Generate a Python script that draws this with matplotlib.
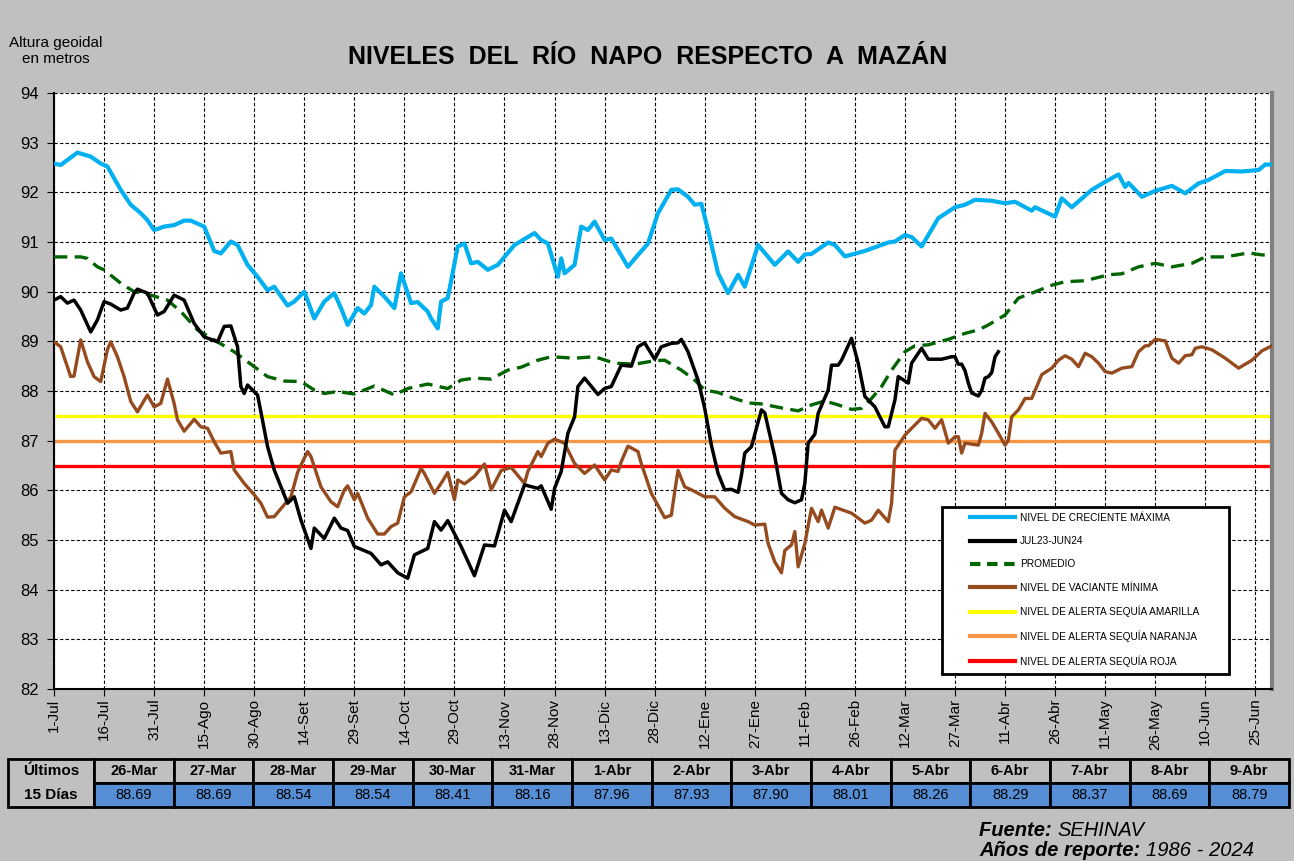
import matplotlib
matplotlib.use("Agg")
import matplotlib.pyplot as plt
from matplotlib.patches import Rectangle
from matplotlib.lines import Line2D

plt.rcParams['font.family'] = ['Liberation Sans', 'DejaVu Sans']

# eje x: dias desde el 1-Jul (anio hidrologico 2023-2024, bisiesto)
tick_days = list(range(0, 361, 15))
tick_labels = ['1-Jul', '16-Jul', '31-Jul', '15-Ago', '30-Ago', '14-Set', '29-Set', '14-Oct',
               '29-Oct', '13-Nov', '28-Nov', '13-Dic', '28-Dic', '12-Ene', '27-Ene', '11-Feb',
               '26-Feb', '12-Mar', '27-Mar', '11-Abr', '26-Abr', '11-May', '26-May', '10-Jun', '25-Jun']

# nivel de creciente maxima
max_days = [0, 2, 7, 11, 14, 16, 20, 23, 26, 28, 30, 33, 36, 39, 41, 45, 48, 50, 53, 55, 58, 61, 64,
            66, 70, 72, 75, 78, 81, 84, 86, 88, 91, 93, 95, 96, 99, 102, 104, 107, 109, 112, 113,
            115, 116, 118, 121, 123, 125, 127, 130, 133, 138, 144, 146, 148, 151, 152, 153, 156,
            158, 160, 162, 165, 167, 172, 175, 178, 181, 185, 187, 190, 192, 194, 196, 199, 202,
            205, 207, 211, 216, 220, 223, 225, 227, 232, 234, 237, 243, 250, 252, 255, 257, 260,
            265, 270, 273, 276, 281, 285, 288, 293, 294, 300, 302, 305, 311, 315, 319, 321, 322,
            326, 330, 335, 339, 343, 346, 351, 356, 361, 363, 365]
max_vals = [92.58, 92.55, 92.80, 92.72, 92.58, 92.52, 92.05, 91.75, 91.58, 91.44, 91.24, 91.31,
            91.34, 91.43, 91.43, 91.31, 90.82, 90.77, 91.01, 90.94, 90.54, 90.30, 90.03, 90.10,
            89.72, 89.80, 90.00, 89.46, 89.80, 89.97, 89.67, 89.33, 89.67, 89.56, 89.73, 90.10,
            89.90, 89.67, 90.37, 89.77, 89.79, 89.60, 89.46, 89.26, 89.80, 89.87, 90.91, 90.97,
            90.57, 90.60, 90.44, 90.54, 90.94, 91.18, 91.04, 90.97, 90.30, 90.67, 90.37, 90.54,
            91.31, 91.24, 91.41, 91.04, 91.07, 90.50, 90.74, 90.97, 91.58, 92.05, 92.06, 91.91,
            91.75, 91.77, 91.24, 90.37, 89.97, 90.34, 90.10, 90.94, 90.54, 90.81, 90.60, 90.75,
            90.76, 90.99, 90.94, 90.71, 90.82, 90.99, 91.01, 91.14, 91.10, 90.91, 91.48, 91.70,
            91.75, 91.85, 91.83, 91.78, 91.81, 91.63, 91.70, 91.51, 91.88, 91.70, 92.05, 92.21,
            92.36, 92.11, 92.19, 91.91, 92.03, 92.13, 91.98, 92.18, 92.25, 92.43, 92.42, 92.45,
            92.56, 92.56]

# promedio 1986-2024
avg_days = [0, 8, 10, 13, 15, 20, 24, 29, 34, 38, 43, 48, 54, 60, 64, 69, 74, 78, 81, 85, 90, 96,
            102, 106, 112, 118, 122, 126, 131, 136, 140, 145, 149, 156, 162, 168, 174, 180, 183,
            188, 192, 195, 199, 203, 208, 212, 218, 223, 227, 231, 235, 239, 242, 245, 248, 251,
            255, 258, 262, 268, 273, 277, 280, 285, 289, 293, 299, 303, 309, 316, 320, 325, 330,
            335, 341, 345, 351, 358, 362, 365]
avg_vals = [90.70, 90.70, 90.67, 90.50, 90.44, 90.17, 90.00, 89.93, 89.83, 89.60, 89.23, 89.03,
            88.79, 88.49, 88.29, 88.20, 88.19, 88.02, 87.95, 87.99, 87.94, 88.10, 87.92, 88.05,
            88.14, 88.05, 88.22, 88.26, 88.24, 88.42, 88.48, 88.62, 88.69, 88.66, 88.69, 88.56,
            88.54, 88.61, 88.62, 88.42, 88.22, 88.02, 87.97, 87.87, 87.76, 87.74, 87.66, 87.60,
            87.72, 87.80, 87.72, 87.63, 87.65, 87.85, 88.09, 88.42, 88.79, 88.91, 88.93, 89.04,
            89.16, 89.23, 89.33, 89.53, 89.87, 89.97, 90.13, 90.20, 90.22, 90.34, 90.36, 90.50,
            90.57, 90.50, 90.57, 90.70, 90.70, 90.78, 90.74, 90.74]

# JUL23-JUN24 (hasta el 25-Mar; los ultimos 15 dias vienen de la tabla)
cur_days = [0, 2, 4, 6, 8, 11, 13, 15, 17, 20, 22, 24, 25, 28, 31, 33, 36, 39, 42, 45, 49, 51, 53,
            55, 56, 57, 58, 61, 62, 64, 66, 70, 72, 74, 77, 78, 81, 84, 86, 88, 90, 95, 98, 100,
            103, 106, 108, 112, 114, 116, 118, 122, 126, 129, 132, 135, 137, 141, 145, 146, 149,
            150, 152, 154, 156, 157, 159, 163, 165, 167, 170, 173, 175, 177, 180, 182, 185, 187,
            188, 190, 193, 195, 197, 199, 201, 203, 205, 206, 207, 209, 212, 213, 216, 218, 220,
            222, 224, 225, 226, 228, 229, 232, 233, 235, 236, 239, 241, 243, 246, 249, 250, 252,
            253, 256, 257, 260, 262, 266]
cur_vals = [89.83, 89.90, 89.77, 89.83, 89.63, 89.19, 89.43, 89.80, 89.75, 89.63, 89.67, 89.97,
            90.05, 89.97, 89.53, 89.60, 89.93, 89.83, 89.36, 89.09, 88.99, 89.30, 89.31, 88.89,
            88.09, 87.95, 88.12, 87.92, 87.58, 86.88, 86.41, 85.74, 85.87, 85.40, 84.83, 85.24,
            85.03, 85.44, 85.24, 85.19, 84.87, 84.73, 84.50, 84.56, 84.34, 84.23, 84.70, 84.83,
            85.37, 85.20, 85.39, 84.87, 84.28, 84.90, 84.88, 85.60, 85.37, 86.11, 86.04, 86.09,
            85.62, 86.04, 86.38, 87.15, 87.48, 88.09, 88.26, 87.93, 88.05, 88.09, 88.52, 88.50,
            88.89, 88.97, 88.64, 88.89, 88.96, 88.97, 89.04, 88.79, 88.22, 87.65, 86.91, 86.34,
            86.01, 86.02, 85.96, 86.30, 86.75, 86.88, 87.62, 87.56, 86.68, 85.94, 85.81, 85.75,
            85.81, 86.14, 86.95, 87.13, 87.55, 88.02, 88.52, 88.52, 88.62, 89.06, 88.56, 87.89,
            87.68, 87.28, 87.28, 87.82, 88.29, 88.16, 88.56, 88.86, 88.64, 88.64]

# nivel de vaciante minima
min_days = [0, 2, 5, 6, 8, 10, 12, 14, 16, 17, 19, 21, 23, 25, 28, 30, 32, 34, 36, 37, 39, 42, 44,
            46, 48, 50, 53, 54, 57, 60, 62, 64, 66, 69, 71, 73, 74, 76, 77, 80, 83, 85, 87, 88,
            90, 91, 94, 97, 99, 101, 103, 105, 107, 110, 111, 114, 116, 118, 120, 121, 123, 126,
            129, 131, 134, 137, 141, 142, 145, 146, 148, 150, 153, 156, 159, 162, 165, 167, 169,
            170, 172, 175, 176, 179, 183, 185, 186, 187, 189, 191, 195, 198, 201, 204, 208, 210,
            213, 214, 216, 218, 219, 221, 222, 223, 225, 227, 229, 230, 232, 234, 239, 243, 245,
            247, 250, 251, 252, 255, 257, 260, 262, 264, 266, 268, 270, 271, 272, 273, 277, 278,
            279, 281, 283, 285, 286, 287, 289, 291, 293, 296, 299, 301, 303, 305, 307, 309, 311,
            313, 315, 317, 320, 323, 325, 327, 328, 330, 333, 335, 337, 339, 341, 342, 344, 347,
            351, 355, 359, 362, 365]
min_vals = [88.99, 88.89, 88.29, 88.30, 89.03, 88.59, 88.29, 88.19, 88.83, 88.99, 88.69, 88.29,
            87.79, 87.58, 87.92, 87.68, 87.75, 88.24, 87.75, 87.42, 87.19, 87.43, 87.28, 87.25,
            86.98, 86.75, 86.78, 86.41, 86.14, 85.91, 85.74, 85.46, 85.47, 85.71, 85.87, 86.36,
            86.51, 86.78, 86.68, 86.07, 85.77, 85.67, 86.01, 86.09, 85.81, 85.94, 85.44, 85.12,
            85.12, 85.27, 85.34, 85.87, 85.97, 86.44, 86.34, 85.94, 86.14, 86.36, 85.81, 86.21,
            86.13, 86.28, 86.53, 86.01, 86.40, 86.46, 86.14, 86.38, 86.78, 86.68, 86.95, 87.03,
            86.95, 86.54, 86.34, 86.51, 86.21, 86.41, 86.38, 86.58, 86.89, 86.78, 86.54, 85.94,
            85.45, 85.50, 85.97, 86.40, 86.07, 86.01, 85.87, 85.87, 85.64, 85.47, 85.37, 85.30,
            85.32, 84.93, 84.56, 84.34, 84.79, 84.90, 85.17, 84.46, 84.93, 85.64, 85.37, 85.60,
            85.24, 85.66, 85.54, 85.34, 85.40, 85.60, 85.37, 85.74, 86.81, 87.11, 87.25, 87.45,
            87.42, 87.25, 87.42, 86.95, 87.08, 87.08, 86.75, 86.95, 86.91, 87.15, 87.55, 87.38,
            87.15, 86.91, 87.01, 87.48, 87.62, 87.85, 87.85, 88.33, 88.46, 88.62, 88.71, 88.64,
            88.49, 88.76, 88.69, 88.56, 88.39, 88.36, 88.46, 88.49, 88.79, 88.91, 88.91, 89.04,
            89.01, 88.66, 88.56, 88.71, 88.73, 88.86, 88.89, 88.83, 88.66, 88.46, 88.62, 88.81,
            88.91]

# niveles de alerta de sequia
alert_amarilla = 87.5
alert_naranja = 87.0
alert_roja = 86.5

# tabla de los ultimos 15 dias
last_dates = ['26-Mar', '27-Mar', '28-Mar', '29-Mar', '30-Mar', '31-Mar', '1-Abr', '2-Abr',
              '3-Abr', '4-Abr', '5-Abr', '6-Abr', '7-Abr', '8-Abr', '9-Abr']
last_vals = [88.69, 88.69, 88.54, 88.54, 88.41, 88.16, 87.96, 87.93, 87.90, 88.01, 88.26,
             88.29, 88.37, 88.69, 88.79]
last_first_day = 269  # 26-Mar

cur_days_all = cur_days + [last_first_day + i for i in range(len(last_vals))]
cur_vals_all = cur_vals + last_vals

W, H = 1294, 861
fig = plt.figure(figsize=(W / 100, H / 100), dpi=100, facecolor='#c0c0c0')
ax = fig.add_axes([54 / W, 1 - 689 / H, (1272 - 54) / W, (689 - 93) / H])
ax.set_facecolor('white')

ax.axhline(alert_amarilla, color='#ffff00', lw=2.4, zorder=2)
ax.axhline(alert_naranja, color='#f79646', lw=2.4, zorder=2)
ax.axhline(alert_roja, color='#ff0000', lw=2.4, zorder=2)
ax.plot(max_days, max_vals, color='#00b0f0', lw=3.0, zorder=3)
ax.plot(avg_days, avg_vals, color='#006400', lw=2.4, dashes=(4, 2.2), zorder=3)
ax.plot(min_days, min_vals, color='#964b1e', lw=2.4, zorder=3)
ax.plot(cur_days_all, cur_vals_all, color='black', lw=2.5, zorder=4)

ax.set_xlim(0, 365)
ax.set_ylim(82, 94)
ax.set_yticks(range(82, 95))
ax.set_xticks(tick_days)
ax.set_xticklabels(tick_labels, rotation=90, fontsize=11)
ax.tick_params(axis='y', labelsize=12, length=5, pad=6, direction='out')
ax.tick_params(axis='x', length=5, pad=2, direction='out')
ax.grid(True, color='black', lw=0.8, linestyle=(0, (3, 2)), zorder=1)
ax.set_axisbelow(True)
ax.spines['top'].set_visible(False)
ax.spines['left'].set_linewidth(1.5)
ax.spines['bottom'].set_linewidth(1.5)
ax.spines['right'].set_color('#808080')
ax.spines['right'].set_linewidth(3)

# leyenda con marco
fig.add_artist(Rectangle((942 / W, 1 - 674 / H), (1229 - 942) / W, (674 - 507) / H,
                         transform=fig.transFigure, facecolor='white', edgecolor='black',
                         lw=2, zorder=4))
handles = [Line2D([], [], color='#00b0f0', lw=3.0),
           Line2D([], [], color='black', lw=3.0),
           Line2D([], [], color='#006400', lw=3.0, dashes=(2.5, 1.6)),
           Line2D([], [], color='#964b1e', lw=3.0),
           Line2D([], [], color='#ffff00', lw=3.0),
           Line2D([], [], color='#f79646', lw=3.0),
           Line2D([], [], color='#ff0000', lw=3.0)]
labels = ['NIVEL DE CRECIENTE MÁXIMA', 'JUL23-JUN24', 'PROMEDIO', 'NIVEL DE VACIANTE MÍNIMA',
          'NIVEL DE ALERTA SEQUÍA AMARILLA', 'NIVEL DE ALERTA SEQUÍA NARANJA',
          'NIVEL DE ALERTA SEQUÍA ROJA']
fig.legend(handles, labels, loc='upper left', bbox_to_anchor=(970 / W, 1 - 513 / H),
           frameon=False, fontsize=7.3, handlelength=4.4, handletextpad=0.5,
           labelspacing=1.3, borderpad=0, borderaxespad=0).set_zorder(5)

# titulos
fig.text(648 / W, 1 - 57 / H, 'NIVELES  DEL  RÍO  NAPO  RESPECTO  A  MAZÁN', ha='center',
         va='center', fontsize=18, fontweight='bold')
fig.text(56 / W, 1 - 51 / H, 'Altura geoidal\nen metros', ha='center', va='center',
         fontsize=11, linespacing=1.1)

# tabla
tax = fig.add_axes([0, 0, 1, 1])
tax.set_xlim(0, W)
tax.set_ylim(H, 0)
tax.axis('off')
top, mid, bot = 759, 783, 807
x0, x1 = 94, 1289
cw = (x1 - x0) / len(last_dates)
tax.add_patch(Rectangle((8, top), x0 - 8, bot - top, facecolor='#c0c0c0', edgecolor='black', lw=2))
tax.text((8 + x0) / 2, (top + mid) / 2, 'Últimos', ha='center', va='center', fontsize=11,
         fontweight='bold')
tax.text((8 + x0) / 2, (mid + bot) / 2, '15 Días', ha='center', va='center', fontsize=11,
         fontweight='bold')
for i, (d, v) in enumerate(zip(last_dates, last_vals)):
    cx = x0 + i * cw
    tax.add_patch(Rectangle((cx, top), cw, mid - top, facecolor='#c0c0c0', edgecolor='black', lw=2))
    tax.add_patch(Rectangle((cx, mid), cw, bot - mid, facecolor='#558ed5', edgecolor='black', lw=2))
    tax.text(cx + cw / 2, (top + mid) / 2, d, ha='center', va='center', fontsize=10.5,
             fontweight='bold')
    tax.text(cx + cw / 2, (mid + bot) / 2, f'{v:.2f}', ha='center', va='center', fontsize=10.5)

# fuente
renderer = fig.canvas.get_renderer()
for y, bold_txt, txt in [(830, 'Fuente: ', 'SEHINAV'), (851, 'Años de reporte: ', '1986 - 2024')]:
    t = tax.text(979, y, bold_txt, ha='left', va='center', fontsize=14.5, fontweight='bold',
                 style='italic')
    bb = t.get_window_extent(renderer)
    tax.text(979 + bb.width, y, txt, ha='left', va='center', fontsize=14.5, style='italic')

fig.savefig('out.png', dpi=100, facecolor=fig.get_facecolor())
